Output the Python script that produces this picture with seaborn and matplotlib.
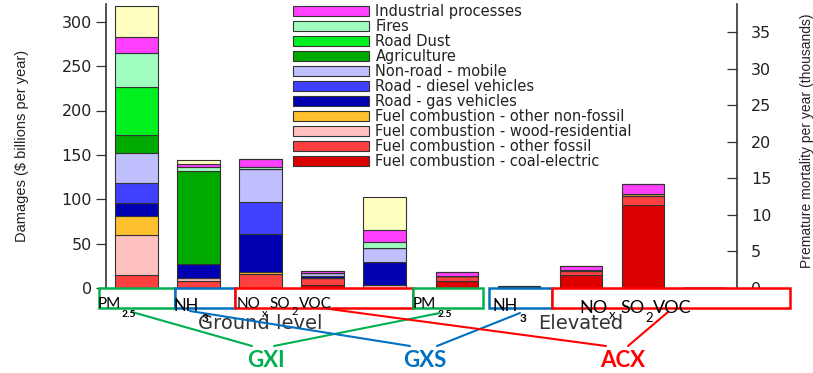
import matplotlib
matplotlib.use("Agg")
import matplotlib.pyplot as plt
import seaborn as sns
import numpy as np
from matplotlib.patches import Rectangle
from matplotlib.lines import Line2D

# ---- data -------------------------------------------------------------
group_labels = ["Ground level", "Elevated"]
species = ["PM2.5", "NH3", "NOx", "SO2", "VOC",
           "PM2.5", "NH3", "NOx", "SO2", "VOC"]
bar_x = [0, 1, 2, 3, 4, 5.17, 6.17, 7.17, 8.17, 9.17]

# damages by source ($ billions per year), stacked bottom -> top
coal_electric    = [0.0, 0.0, 0.0, 3.5, 0.0, 7.4, 0.0, 15.0, 93.7, 0.0]
other_fossil     = [14.6, 8.2, 15.8, 8.1, 0.0, 5.7, 1.2, 4.5, 10.5, 0.0]
wood_residential = [44.6, 2.6, 0.0, 0.0, 3.7, 0.0, 0.0, 0.0, 0.0, 0.0]
other_nonfossil  = [21.4, 0.0, 1.8, 0.0, 0.0, 0.0, 0.0, 1.1, 1.9, 0.0]
road_gas         = [15.7, 16.2, 43.2, 1.5, 25.1, 0.0, 0.0, 0.0, 0.0, 0.0]
road_diesel      = [21.8, 0.0, 36.3, 0.0, 0.0, 0.0, 0.0, 0.0, 0.0, 0.0]
nonroad_mobile   = [34.5, 0.0, 37.3, 3.8, 16.2, 0.0, 0.0, 0.0, 0.0, 0.0]
agriculture      = [19.9, 105.0, 0.0, 0.0, 0.0, 0.0, 0.0, 0.0, 0.0, 0.0]
road_dust        = [54.4, 0.0, 0.0, 0.0, 0.0, 0.0, 0.0, 0.0, 0.0, 0.0]
fires            = [37.5, 4.5, 1.8, 0.0, 6.8, 0.0, 0.0, 0.0, 0.0, 0.0]
industrial       = [18.0, 3.4, 9.0, 2.2, 13.0, 4.9, 1.0, 3.7, 11.3, 0.0]
other_sources    = [35.2, 4.1, 0.0, 0.0, 37.6, 0.0, 0.0, 0.0, 0.0, 0.0]

source_names = [
    "Fuel combustion - coal-electric",
    "Fuel combustion - other fossil",
    "Fuel combustion - wood-residential",
    "Fuel combustion - other non-fossil",
    "Road - gas vehicles",
    "Road - diesel vehicles",
    "Non-road - mobile",
    "Agriculture",
    "Road Dust",
    "Fires",
    "Industrial processes",
    "Other",
]
source_values = [coal_electric, other_fossil, wood_residential, other_nonfossil,
                 road_gas, road_diesel, nonroad_mobile, agriculture, road_dust,
                 fires, industrial, other_sources]
source_colors = ["#DD0000", "#FF4040", "#FFC0C0", "#FFC030", "#0000B0", "#4040FF",
                 "#C0C0FF", "#00AA00", "#00F020", "#A0FFC0", "#FF40FF", "#FFFFC0"]
in_legend = [True] * 11 + [False]

dmg_ticks = [0, 50, 100, 150, 200, 250, 300]
mort_ticks = [0, 5, 10, 15, 20, 25, 30, 35]
group_centers = [2, 7.17]

# ---- figure -----------------------------------------------------------
sns.set_theme(style="white")
plt.rcParams["font.family"] = ["DejaVu Sans"]

W, H = 813, 373
fig = plt.figure(figsize=(W / 100, H / 100), dpi=100)


def fx(px):
    return px / W


def fy(py):
    return 1 - py / H


ax = fig.add_axes([fx(106), fy(288), (737 - 106) / W, (288 - 4) / H])

bottom = np.zeros(len(bar_x))
handles = []
for name, vals, col, show in zip(source_names, source_values, source_colors, in_legend):
    vals = np.asarray(vals, dtype=float)
    sns.barplot(x=bar_x, y=vals, native_scale=True, color=col, saturation=1,
                width=0.69, bottom=bottom, edgecolor="#333333", linewidth=0.8,
                errorbar=None, ax=ax)
    if show:
        handles.append((ax.containers[-1], name))
    bottom = bottom + vals

ax.set_xlim(-0.49, 9.685)
ax.set_ylim(0, 320)
ax.set_yticks(dmg_ticks)
ax.set_xticks(group_centers)
ax.set_xticklabels(group_labels, fontsize=14, color="#333333")
ax.tick_params(axis="x", length=0, pad=19)
ax.tick_params(axis="y", direction="out", length=7, width=0.9, color="#333333",
               labelsize=11.5, labelcolor="#222222", left=True, pad=3)
ax.set_xlabel("")
ax.set_ylabel("Damages ($ billions per year)", fontsize=10.5, color="#222222",
              family=["Liberation Sans", "DejaVu Sans"])
ax.yaxis.set_label_coords(-0.122, 0.5)
for s in ["top", "bottom", "right"]:
    ax.spines[s].set_visible(False)
ax.spines["left"].set_color("#333333")
ax.spines["left"].set_linewidth(1.2)

ax2 = ax.twinx()
ax2.set_ylim(0, 38.9)
ax2.set_yticks(mort_ticks)
ax2.tick_params(axis="y", direction="in", length=7, width=0.9, color="#333333",
                labelsize=11.5, labelcolor="#222222", right=True, pad=10)
ax2.set_ylabel("Premature mortality per year (thousands)", fontsize=10,
               color="#222222", family=["Liberation Sans", "DejaVu Sans"])
ax2.yaxis.set_label_coords(1.1, 0.52)
for s in ["top", "bottom", "left"]:
    ax2.spines[s].set_visible(False)
ax2.spines["right"].set_color("#333333")
ax2.spines["right"].set_linewidth(1.2)

# legend (top entry = top of the stack)
handles = handles[::-1]
leg = ax.legend([h for h, _ in handles], [n for _, n in handles],
                loc="upper left", bbox_to_anchor=(fx(293), fy(4)),
                bbox_transform=fig.transFigure, frameon=False, fontsize=10.5,
                handlelength=5.2, handleheight=0.7, handletextpad=0.45,
                labelspacing=0.0, borderpad=0, borderaxespad=0)
for t in leg.get_texts():
    t.set_color("#222222")

# ---- emission-type brackets and model links --------------------------
GREEN, BLUE, RED = "#00B050", "#0070C0", "#FF0000"
boxes = [(99, 175, GREEN), (175, 235, BLUE), (235, 413, RED),
         (413, 483, GREEN), (489, 552, BLUE), (552, 790, RED)]
for x0, x1, col in boxes:
    fig.add_artist(Rectangle((fx(x0), fy(308)), (x1 - x0) / W, 20 / H,
                             transform=fig.transFigure, facecolor="white",
                             edgecolor=col, linewidth=1.8, zorder=5))

links = [((132, 312), (252, 346), GREEN), ((440, 313), (274, 346), GREEN),
         ((190, 311), (410, 346), BLUE), ((520, 313), (437, 346), BLUE),
         ((322, 308), (606, 346), RED), ((668, 312), (628, 346), RED)]
for (x0, y0), (x1, y1), col in links:
    fig.add_artist(Line2D([fx(x0), fx(x1)], [fy(y0), fy(y1)],
                          transform=fig.transFigure, color=col, linewidth=1.5,
                          zorder=6))

label_font = ["Lato", "DejaVu Sans"]


def put(px, py, s, size, weight="normal", color="black"):
    fig.text(fx(px), fy(py), s, fontsize=size, fontweight=weight, color=color,
             ha="left", va="baseline", family=label_font, zorder=7)


# ground level
put(98, 308, "PM", 11)
put(122, 317, "2.5", 7.5, "bold")
put(173, 311, "NH", 12)
put(202, 322, "3", 8.5, "bold")
put(237, 308, "NO", 11)
put(262, 317, "x", 8)
put(269, 308, "SO", 11)
put(292, 315, "2", 8)
put(299, 308, "VOC", 11)
# elevated
put(413, 308, "PM", 11)
put(438, 317, "2.5", 7.5, "bold")
put(492, 311, "NH", 12)
put(520, 322, "3", 8.5, "bold")
put(579, 313, "NO", 13)
put(609, 319, "x", 9.5)
put(620, 313, "SO", 13)
put(645, 322, "2", 9.5)
put(653, 313, "VOC", 13)

for cx, s, col in [(266, "GXI", GREEN), (425, "GXS", BLUE), (623, "ACX", RED)]:
    fig.text(fx(cx), fy(367), s, fontsize=16, fontweight="bold", color=col,
             ha="center", va="baseline", family=label_font, zorder=7)

fig.savefig("out.png", dpi=100)
